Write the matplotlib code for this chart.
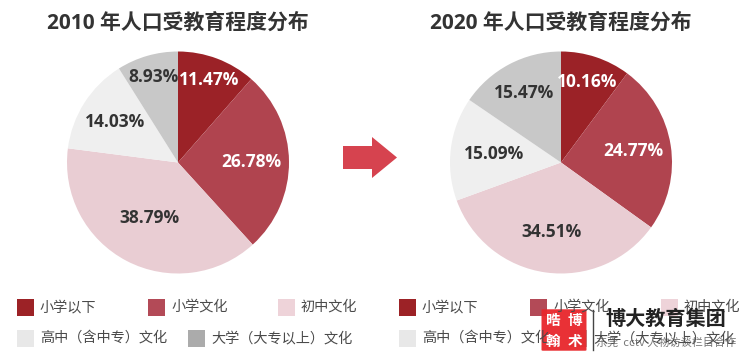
import matplotlib
matplotlib.use("Agg")
import matplotlib.pyplot as plt
from matplotlib.patches import Rectangle, FancyArrow, FancyBboxPatch
import numpy as np

plt.rcParams['font.family'] = ['Noto Sans CJK SC', 'DejaVu Sans']
LAT = ['Open Sans', 'Noto Sans CJK SC', 'DejaVu Sans']

# ---- data ----
categories = ["小学以下", "小学文化", "初中文化", "高中（含中专）文化", "大学（大专以上）文化"]
values_2010 = [11.47, 26.78, 38.79, 14.03, 8.93]
values_2020 = [10.16, 24.77, 34.51, 15.09, 15.47]
titles = ["2010 年人口受教育程度分布", "2020 年人口受教育程度分布"]

# ---- style ----
pie_colors = ["#9b2227", "#b0444f", "#e9cdd3", "#efefef", "#c8c8c8"]
legend_colors = ["#9c2226", "#b34a57", "#eed3d9", "#e8e8e8", "#ababab"]
label_colors = ["white", "white", "#333333", "#333333", "#333333"]
dist_2010 = [0.79, 0.66, 0.56, 0.67, 0.80]
dist_2020 = [0.76, 0.66, 0.63, 0.61, 0.71]

W, H = 750, 359
fig = plt.figure(figsize=(W / 100, H / 100), dpi=100)
fig.patch.set_facecolor("white")


def px_axes(cx, cy, r):
    return fig.add_axes([(cx - r) / W, (H - cy - r) / H, 2 * r / W, 2 * r / H])


def draw_pie(ax, vals, dists):
    ax.pie(vals, colors=pie_colors, startangle=90, counterclock=False,
           radius=1.0, wedgeprops=dict(linewidth=0))
    total = sum(vals)
    cum = 0
    for v, d, c in zip(vals, dists, label_colors):
        mid = 90 - (cum + v / 2) / total * 360
        cum += v
        a = np.deg2rad(mid)
        ax.text(d * np.cos(a), d * np.sin(a), f"{v:.2f}%", ha="center", va="center",
                fontsize=12.5, fontweight="bold", color=c, family=LAT)
    ax.set_xlim(-1, 1)
    ax.set_ylim(-1, 1)
    ax.set_aspect("equal")
    ax.axis("off")


ax1 = px_axes(178, 162.5, 111)
draw_pie(ax1, values_2010, dist_2010)
ax2 = px_axes(561, 162.5, 111)
draw_pie(ax2, values_2020, dist_2020)

# titles
for cx, t in zip([178, 561], titles):
    fig.text(cx / W, 1 - 23 / H, t, ha="center", va="center", fontsize=15,
             fontweight="bold", color="#333333", family=LAT)

# arrow
arrow = FancyArrow(343 / W, 1 - 157.5 / H, 54 / W, 0, width=23 / H, head_width=41 / H,
                   head_length=25 / W, length_includes_head=True,
                   transform=fig.transFigure, color="#d6434f", linewidth=0)
fig.patches.append(arrow)

# legends
def legend_block(x_positions, y_rows):
    for i, (cat, col) in enumerate(zip(categories, legend_colors)):
        x = x_positions[i]
        y = y_rows[0] if i < 3 else y_rows[1]
        fig.patches.append(Rectangle((x / W, 1 - (y + 8.5) / H), 17 / W, 17 / H,
                                     transform=fig.transFigure, facecolor=col, edgecolor="none"))
        fig.text((x + 23) / W, 1 - y / H, cat, ha="left", va="center", fontsize=10.2,
                 color="#4a4a4a")

legend_block([17, 148, 278, 17, 188], [307, 338])
legend_block([399, 530, 661, 399, 570], [307, 338])

# watermark
fig.patches.append(FancyBboxPatch((543 / W, 1 - 350 / H), 42 / W, 40 / H,
                                  boxstyle="round,pad=0.002", transform=fig.transFigure,
                                  facecolor="#e8262b", edgecolor="none", alpha=0.95))
for (dx, dy, ch) in [(553, 320, "晧"), (575, 320, "博"), (553, 341, "翰"), (575, 341, "术")]:
    fig.text(dx / W, 1 - dy / H, ch, ha="center", va="center", fontsize=10.5,
             fontweight="bold", color="white")
fig.lines.append(plt.Line2D([593 / W, 593 / W], [1 - 310 / H, 1 - 350 / H],
                            transform=fig.transFigure, color="#444444", linewidth=1))
fig.text(666 / W, 1 - 318 / H, "博大教育集团", ha="center", va="center", fontsize=14.5,
         fontweight="bold", color="#222222")
fig.text(666 / W, 1 - 342 / H, "东莞  cctv 人物访谈栏目合作", ha="center", va="center",
         fontsize=8, color="#555555", alpha=0.8)

fig.savefig("out.png", dpi=100, facecolor="white")
